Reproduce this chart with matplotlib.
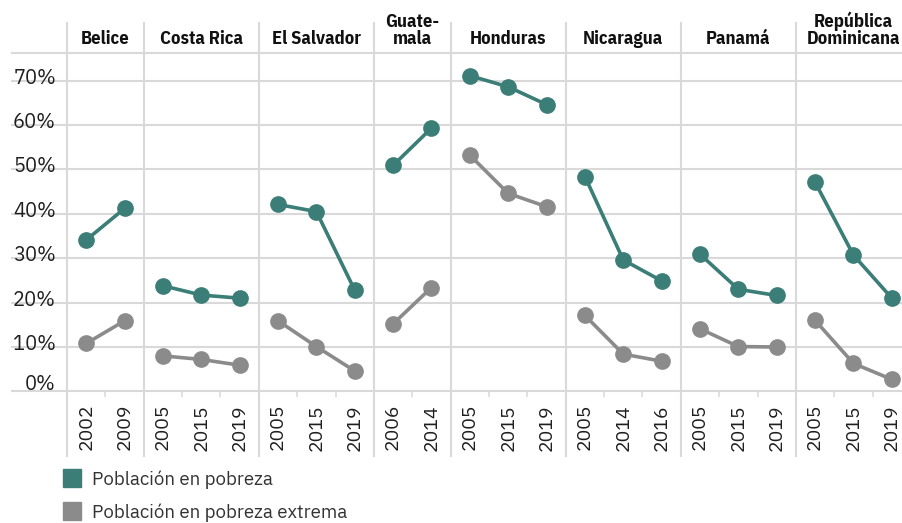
import matplotlib
matplotlib.use("Agg")
import matplotlib.pyplot as plt
import matplotlib.transforms as mtransforms
from matplotlib import font_manager as fm
from matplotlib.lines import Line2D

# ---------------- data ----------------
countries = ["Belice", "Costa Rica", "El Salvador", "Guatemala", "Honduras",
             "Nicaragua", "Panamá", "República Dominicana"]
header_labels = ["Belice", "Costa Rica", "El Salvador", "Guate-\nmala", "Honduras",
                 "Nicaragua", "Panamá", "República\nDominicana"]
years = [[2002, 2009], [2005, 2015, 2019], [2005, 2015, 2019], [2006, 2014],
         [2005, 2015, 2019], [2005, 2014, 2016], [2005, 2015, 2019], [2005, 2015, 2019]]
pobreza = [[34.1, 41.2], [23.8, 21.7, 21.0], [42.1, 40.5, 22.8], [50.9, 59.3],
           [71.1, 68.6, 64.6], [48.4, 29.6, 24.9], [30.9, 23.0, 21.6], [47.1, 30.7, 21.0]]
extrema = [[10.8, 15.9], [8.0, 7.2, 5.9], [15.9, 10.1, 4.6], [15.2, 23.4],
           [53.2, 44.6, 41.6], [17.1, 8.4, 6.8], [14.1, 10.1, 10.0], [16.0, 6.3, 2.7]]
y_ticks = [0, 10, 20, 30, 40, 50, 60, 70]
y_tick_labels = ["0%", "10%", "20%", "30%", "40%", "50%", "60%", "70%"]
series_names = ["Población en pobreza", "Población en pobreza extrema"]

# ---------------- style ----------------
TEAL = "#3b7d77"
GRAY = "#8b8b8b"
GRID = "#d9d9d9"
TXT = "#1e1e1e"

names = {f.name for f in fm.fontManager.ttflist}
def pick(*cands):
    for c in cands:
        if c in names:
            return c
    return "DejaVu Sans"

F_REG = pick("IBM Plex Sans", "Noto Sans", "Open Sans")
F_COND = pick("IBM Plex Sans Condensed", "Roboto Condensed", "Open Sans Condensed",
              "Liberation Sans Narrow", "Roboto")

W, H = 902, 523
fig = plt.figure(figsize=(W / 100, H / 100), dpi=100)

ax_left, ax_right = 67, 911
ax_top, ax_bottom = 53, 391.4
ax = fig.add_axes([ax_left / W, (H - ax_bottom) / H,
                   (ax_right - ax_left) / W, (ax_bottom - ax_top) / H])
ax_h = ax_bottom - ax_top
px_per_unit = 44.4 / 10
ymax = (ax_bottom - ax_top) / px_per_unit
ax.set_ylim(0, ymax)

n_total = sum(len(y) for y in years)
ax.set_xlim(-0.5, n_total - 0.5)

for s in ax.spines.values():
    s.set_visible(False)

# horizontal grid lines (extend left under the labels)
xmin_ext = -(ax_left - 12) / (ax_right - ax_left)
for yv in y_ticks + [ymax]:
    ax.axhline(yv, xmin=xmin_ext, xmax=1, color=GRID, lw=1.5, clip_on=False, zorder=0)

# vertical separators between panels
vmin = -(456 - ax_bottom) / ax_h
vmax = 1 + (ax_top - 23) / ax_h
start = 0
centers = []
boundaries = []
positions = []
tick_labels = []
minor = []
for i, yrs in enumerate(years):
    n = len(yrs)
    boundaries.append(start - 0.5)
    xs = list(range(start, start + n))
    positions += xs
    tick_labels += [str(y) for y in yrs]
    minor += [x + 0.5 for x in xs[:-1]]
    centers.append(start + (n - 1) / 2)
    ax.plot(xs, pobreza[i], color=TEAL, lw=2.6, marker="o", ms=11, zorder=3,
            solid_capstyle="round")
    ax.plot(xs, extrema[i], color=GRAY, lw=2.6, marker="o", ms=11, zorder=3,
            solid_capstyle="round")
    start += n
boundaries.append(start - 0.5)
for b in boundaries:
    ax.axvline(b, ymin=vmin, ymax=vmax, color=GRID, lw=1.5, clip_on=False, zorder=0)

# headers
hdr_tr = mtransforms.blended_transform_factory(ax.transData, ax.transAxes)
for c, lab in zip(centers, header_labels):
    ax.text(c, 1 + (ax_top - 48.5) / ax_h, lab, transform=hdr_tr, ha="center",
            va="bottom", fontsize=13.3, fontweight="bold", family=F_COND,
            color="#111111", linespacing=0.98)

# x ticks
ax.set_xticks(positions)
ax.set_xticklabels(tick_labels, rotation=90, va="top", ha="center",
                   fontsize=14, family=F_REG, color=TXT)
ax.set_xticks(minor, minor=True)
ax.tick_params(axis="x", which="major", length=0, pad=9)
ax.tick_params(axis="x", which="minor", length=4.5, width=1.1, color=GRID)

# y ticks
ax.set_yticks(y_ticks)
ax.set_yticklabels(y_tick_labels, fontsize=14.5, family=F_REG, color=TXT)
ax.tick_params(axis="y", length=0, pad=8)
for t in ax.get_yticklabels():
    t.set_verticalalignment("center")
    off = 6.5 if t.get_text() == "0%" else 2.5
    t.set_transform(t.get_transform() +
                    mtransforms.ScaledTranslation(0, off / 100, fig.dpi_scale_trans))

# legend
handles = [Line2D([], [], ls="none", marker="s", ms=13, mfc=TEAL, mec=TEAL),
           Line2D([], [], ls="none", marker="s", ms=13, mfc=GRAY, mec=GRAY)]
leg = fig.legend(handles, series_names, loc="upper left",
                 bbox_to_anchor=(63 / W, 1 - 470 / H), frameon=False,
                 prop={"family": F_REG, "size": 13.5}, handlelength=1.0,
                 handletextpad=0.55, labelspacing=0.75, borderaxespad=0,
                 borderpad=0)
for t in leg.get_texts():
    t.set_color("#333333")

fig.savefig("out.png", dpi=100)
